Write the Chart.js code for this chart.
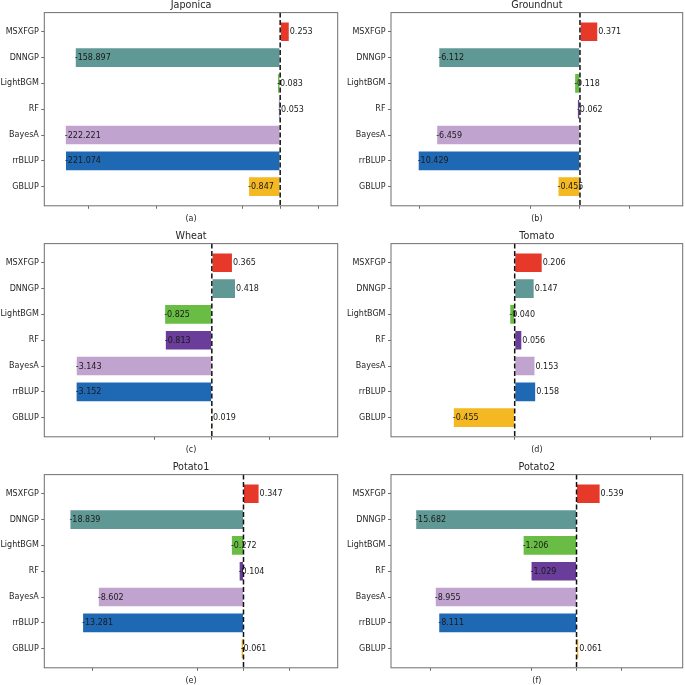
<!DOCTYPE html>
<html>
  <head>
    <meta charset="utf-8" />
    <title>Model comparison per crop</title>
    <script src="https://cdn.jsdelivr.net/npm/chart.js@4.4.1/dist/chart.umd.min.js"></script>
    <style>
      html,
      body {
        margin: 0;
        padding: 0;
        background: #fff;
        overflow: hidden;
      }
      #page {
        position: relative;
        width: 685px;
        height: 685px;
      }
      #page canvas {
        position: absolute;
      }
    </style>
  </head>
  <body>
    <div id="page"></div>
    <script>
      // categories (top to bottom)
      const methods = ["MSXFGP", "DNNGP", "LightBGM", "RF", "BayesA", "rrBLUP", "GBLUP"];
      const barColors = ["#e6392a", "#5f9894", "#69bd45", "#6a3d9a", "#c0a3cf", "#1f68b3", "#f3b822"];

      // one series per crop, in the order of methods
      const japonica = [0.253, -158.897, -0.083, -0.053, -222.221, -221.074, -0.847];
      const groundnut = [0.371, -6.112, -0.118, -0.062, -6.459, -10.429, -0.455];
      const wheat = [0.365, 0.418, -0.825, -0.813, -3.143, -3.152, 0.019];
      const tomato = [0.206, 0.147, -0.04, 0.056, 0.153, 0.158, -0.455];
      const potato1 = [0.347, -18.839, -0.272, -0.104, -8.602, -13.281, -0.061];
      const potato2 = [0.539, -15.682, -1.206, -1.029, -8.955, -8.111, 0.061];

      const crops = ["Japonica", "Groundnut", "Wheat", "Tomato", "Potato1", "Potato2"];
      const series = [japonica, groundnut, wheat, tomato, potato1, potato2];
      const panelTags = ["(a)", "(b)", "(c)", "(d)", "(e)", "(f)"];

      // symlog tick positions (labels hidden, marks only)
      const xTickValues = [-100, -10, -1, 0, 1];

      const FONT = "'DejaVu Sans', sans-serif";
      const TEXT = "#262626";
      const FRAME = "#6e6e6e";

      // symmetric log transform, linthresh 2, linscale 1
      const LINTHRESH = 2;
      const LINSCALE_ADJ = 1 / (1 - 1 / 10);
      function symlog(v) {
        const a = Math.abs(v);
        if (a <= LINTHRESH) return v * LINSCALE_ADJ;
        return Math.sign(v) * LINTHRESH * (LINSCALE_ADJ + Math.log10(a / LINTHRESH));
      }
      function symexp(t) {
        const a = Math.abs(t);
        if (a <= LINTHRESH * LINSCALE_ADJ) return t / LINSCALE_ADJ;
        return Math.sign(t) * LINTHRESH * Math.pow(10, a / LINTHRESH - LINSCALE_ADJ);
      }

      class SymlogScale extends Chart.LinearScale {
        static id = "symlog";
        static defaults = Chart.LinearScale.defaults;
        configure() {
          super.configure();
          this._tMin = symlog(this.min);
          this._tMax = symlog(this.max);
        }
        getPixelForValue(value) {
          const t = (symlog(value) - this._tMin) / (this._tMax - this._tMin);
          return this.getPixelForDecimal(t);
        }
        getValueForPixel(pixel) {
          const d = this.getDecimalForPixel(pixel);
          return symexp(this._tMin + d * (this._tMax - this._tMin));
        }
      }
      Chart.register(SymlogScale);

      // frame, zero line and value labels
      const decorations = {
        id: "decorations",
        afterDatasetsDraw(chart) {
          const { ctx, chartArea: area } = chart;
          const xs = chart.scales.x;
          const ys = chart.scales.y;
          const x0 = xs.getPixelForValue(0);
          ctx.save();
          ctx.strokeStyle = "#111";
          ctx.lineWidth = 1.5;
          ctx.setLineDash([5, 2.5]);
          ctx.beginPath();
          ctx.moveTo(x0, area.top);
          ctx.lineTo(x0, area.bottom);
          ctx.stroke();
          ctx.setLineDash([]);
          ctx.strokeStyle = FRAME;
          ctx.lineWidth = 1;
          ctx.strokeRect(area.left, area.top, area.right - area.left, area.bottom - area.top);
          ctx.fillStyle = "#1a1a1a";
          ctx.font = "8px " + FONT;
          ctx.textAlign = "left";
          ctx.textBaseline = "middle";
          chart.data.datasets[0].data.forEach((d) => {
            ctx.fillText(d.x.toFixed(3), xs.getPixelForValue(d.x), ys.getPixelForValue(d.y) + 0.5);
          });
          ctx.restore();
        },
      };

      // panel geometry
      const colLeft = [0, 342];
      const colWidth = [342, 343];
      const yAxisWidth = [44.3, 49];
      const padRight = [4.3, 2.3];
      const rowTop = [0, 230.5, 461.6];
      const canvasHeight = 226;

      const page = document.getElementById("page");

      series.forEach((vals, k) => {
        const col = k % 2;
        const row = Math.floor(k / 2);
        const canvas = document.createElement("canvas");
        canvas.width = colWidth[col];
        canvas.height = canvasHeight;
        canvas.style.left = colLeft[col] + "px";
        canvas.style.top = rowTop[row] + "px";
        canvas.style.width = colWidth[col] + "px";
        canvas.style.height = canvasHeight + "px";
        page.appendChild(canvas);

        new Chart(canvas, {
          type: "bar",
          data: {
            datasets: [
              {
                data: vals.map((v, i) => ({ x: v, y: i })),
                backgroundColor: barColors,
                borderColor: "rgba(255,255,255,0.6)",
                borderWidth: 1,
                categoryPercentage: 1,
                barPercentage: 0.8,
              },
            ],
          },
          options: {
            indexAxis: "y",
            responsive: false,
            animation: false,
            layout: { padding: { left: 0, right: padRight[col], top: 0, bottom: 3.4 } },
            plugins: {
              legend: { display: false },
              tooltip: { enabled: false },
              title: {
                display: true,
                text: crops[k],
                fullSize: false,
                color: TEXT,
                font: { family: FONT, size: 9.6, weight: "normal", lineHeight: 1.2 },
                padding: { top: 0, bottom: 1.1 },
              },
            },
            scales: {
              x: {
                type: "symlog",
                min: Math.min(...vals) * 2,
                max: Math.max(...vals) * 6,
                bounds: "data",
                offset: false,
                afterBuildTicks: (s) => {
                  s.ticks = xTickValues.filter((v) => v >= s.min && v <= s.max).map((v) => ({ value: v }));
                },
                afterFit: (s) => {
                  s.height = 16.8;
                },
                ticks: { display: false },
                grid: { offset: false, drawOnChartArea: false, drawTicks: true, tickLength: 3, color: FRAME },
                border: { display: false },
                title: {
                  display: true,
                  text: panelTags[k],
                  color: TEXT,
                  font: { family: FONT, size: 8, lineHeight: 1 },
                  padding: 0,
                },
              },
              y: {
                type: "linear",
                min: -0.74,
                max: 6.74,
                bounds: "data",
                offset: false,
                reverse: true,
                afterBuildTicks: (s) => {
                  s.ticks = methods.map((m, i) => ({ value: i }));
                },
                afterFit: (s) => {
                  s.width = yAxisWidth[col];
                },
                ticks: {
                  callback: (v) => methods[v],
                  color: TEXT,
                  padding: 2.5,
                  font: { family: FONT, size: 8 },
                },
                grid: { offset: false, drawOnChartArea: false, drawTicks: true, tickLength: 3, color: FRAME },
                border: { display: false },
              },
            },
          },
          plugins: [decorations],
        });
      });
    </script>
  </body>
</html>
